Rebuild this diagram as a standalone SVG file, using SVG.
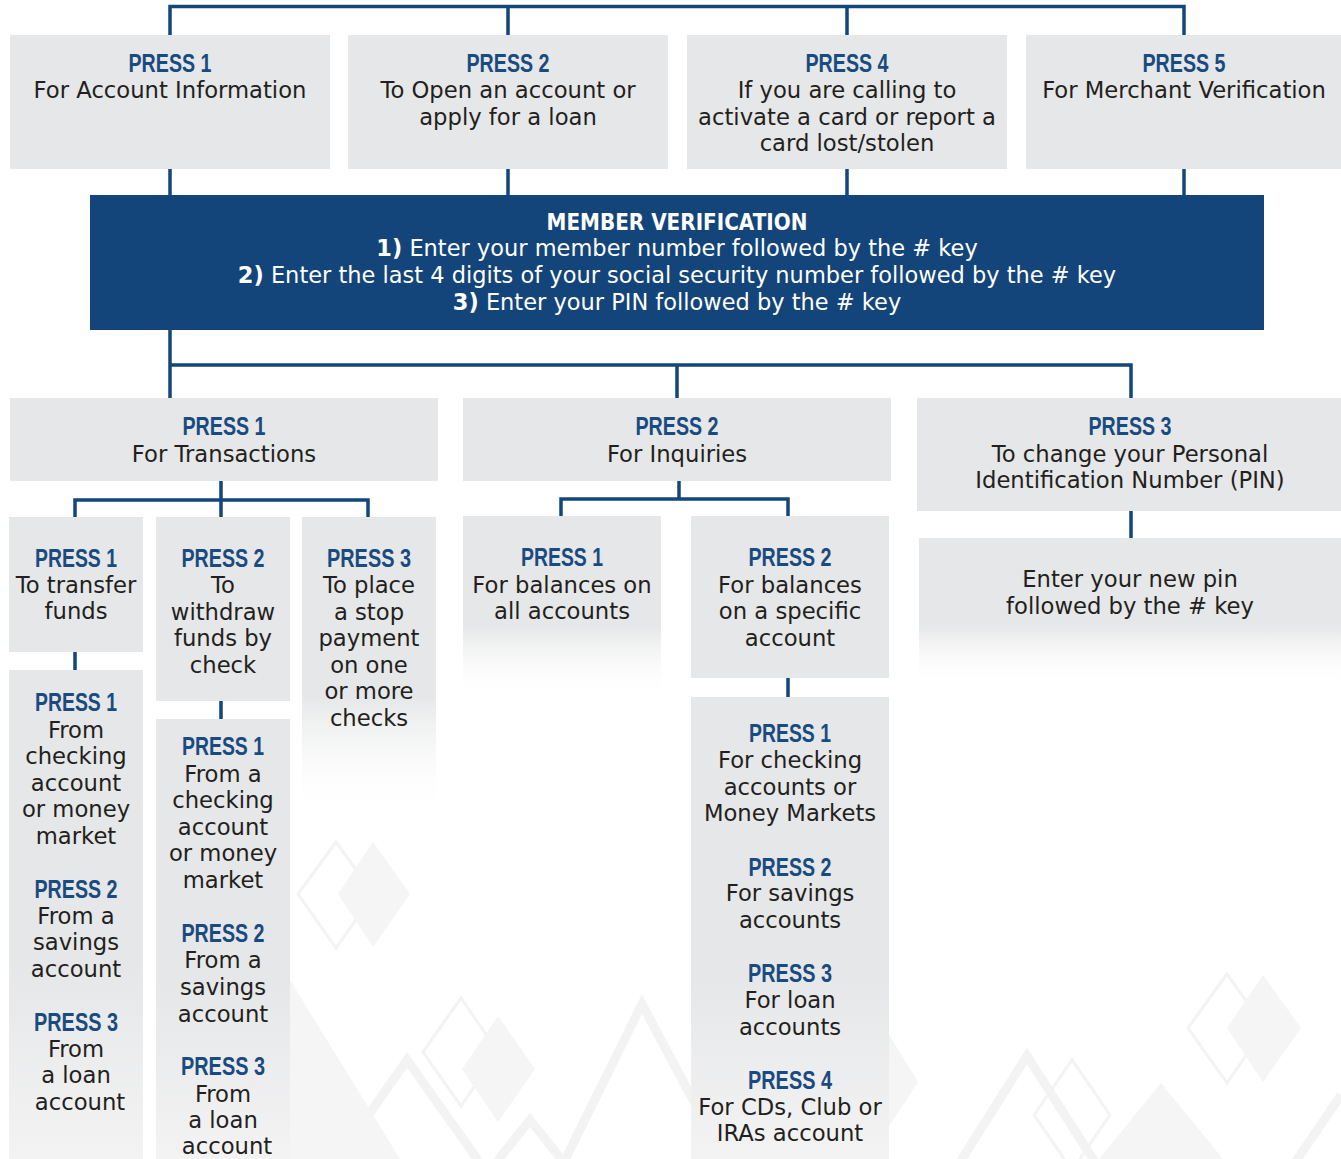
<svg xmlns="http://www.w3.org/2000/svg" width="1341" height="1159" viewBox="0 0 1341 1159">
<style>
.box{fill:#e6e7e8}
.fade{fill:url(#fadeG)}
.col{fill:url(#colG)}
.ln{stroke:#13467b;stroke-width:3.5;fill:none;stroke-linecap:square}
.t{font-family:"DejaVu Sans","Liberation Sans",sans-serif;font-size:22.7px;fill:#231f20;text-anchor:middle}
.p{font-family:"Liberation Sans",Arial,sans-serif;font-weight:bold;font-size:25px;fill:#1a4b80;text-anchor:middle}
.w{font-family:"DejaVu Sans","Liberation Sans",sans-serif;font-size:22.5px;fill:#ffffff;text-anchor:middle}
.wb{font-weight:bold}
.deco-o{fill:none;stroke:#f3f3f3;stroke-width:3}
.deco-t{fill:none;stroke:#f3f3f3;stroke-width:9}
.deco-f{fill:#f5f5f5}
</style>
<defs>
<linearGradient id="fadeG" x1="0" y1="0" x2="0" y2="1">
<stop offset="0.6" stop-color="#e6e7e8"/>
<stop offset="1" stop-color="#ffffff" stop-opacity="0"/>
</linearGradient>
<linearGradient id="colG" x1="0" y1="0" x2="0" y2="1">
<stop offset="0.6" stop-color="#e6e7e8"/>
<stop offset="1" stop-color="#f3f3f4"/>
</linearGradient>
</defs>
<rect width="1341" height="1159" fill="#ffffff"/>
<g id="background">
<polygon class="deco-o" points="336,842 298,894 336,948 374,894"/>
<polygon class="deco-f" points="373,842 338,894 373,947 410,894"/>
<polygon class="deco-o" points="461,998 423,1052 461,1106 498,1052"/>
<polygon class="deco-f" points="498,1016 462,1069 498,1122 535,1069"/>
<polyline class="deco-t" points="330,1170 407,1060 485,1170"/>
<polyline class="deco-t" points="560,1170 642,1004 730,1170"/>
<polyline class="deco-t" points="490,1170 530,1120 570,1170"/>
<polygon class="deco-f" points="290,980 290,1159 400,1159"/>
<polygon class="deco-o" points="1227,974 1188,1028 1227,1083 1265,1028"/>
<polygon class="deco-f" points="1263,975 1227,1028 1263,1082 1301,1028"/>
<polyline class="deco-t" points="955,1170 1027,1056 1100,1170"/>
<polygon class="deco-o" points="1072,1060 1034,1115 1072,1170 1110,1115"/>
<polygon class="deco-f" points="1161,1083 1090,1170 1232,1170"/>
<polygon class="deco-f" points="880,1020 918,1082 880,1140"/>
<polyline class="deco-t" points="1290,1170 1341,1095"/>
</g>
<g id="connectors">
<path class="ln" d="M170,35 V6.5 H1184 V35 M508,6.5 V35 M847,6.5 V35"/>
<path class="ln" d="M170,169 V195 M508,169 V195 M847,169 V195 M1184,169 V195"/>
<path class="ln" d="M170,330 V398 M170,365 H1131 V398 M677,365 V398"/>
<path class="ln" d="M221,481 V517 M75,517 V500 H368 V517"/>
<path class="ln" d="M679,481 V499 M561,516 V499 H788 V516"/>
<path class="ln" d="M75,652 V670 M221,701 V719 M788,678 V697 M1131,511 V538"/>
</g>
<g id="top1"><rect class="box" x="10" y="35" width="320" height="134"/>
<text class="p" x="170" y="72" textLength="83" lengthAdjust="spacingAndGlyphs">PRESS 1</text>
<text class="t" x="170" y="98">For Account Information</text></g>
<g id="top2"><rect class="box" x="348" y="35" width="320" height="134"/>
<text class="p" x="508" y="72" textLength="83" lengthAdjust="spacingAndGlyphs">PRESS 2</text>
<text class="t" x="508" y="98">To Open an account or</text>
<text class="t" x="508" y="125">apply for a loan</text></g>
<g id="top4"><rect class="box" x="687" y="35" width="320" height="134"/>
<text class="p" x="847" y="72" textLength="83" lengthAdjust="spacingAndGlyphs">PRESS 4</text>
<text class="t" x="847" y="98">If you are calling to</text>
<text class="t" x="847" y="125">activate a card or report a</text>
<text class="t" x="847" y="151">card lost/stolen</text></g>
<g id="top5"><rect class="box" x="1026" y="35" width="315" height="134"/>
<text class="p" x="1184" y="72" textLength="83" lengthAdjust="spacingAndGlyphs">PRESS 5</text>
<text class="t" x="1184" y="98">For Merchant Verification</text></g>
<g id="verification"><rect x="90" y="195" width="1174" height="135" fill="#13457a"/>
<text class="w wb" x="677" y="230" textLength="261" lengthAdjust="spacingAndGlyphs">MEMBER VERIFICATION</text>
<text class="w" x="677" y="256"><tspan class="wb">1)</tspan> Enter your member number followed by the # key</text>
<text class="w" x="677" y="283"><tspan class="wb">2)</tspan> Enter the last 4 digits of your social security number followed by the # key</text>
<text class="w" x="677" y="310"><tspan class="wb">3)</tspan> Enter your PIN followed by the # key</text></g>
<g id="transactions"><rect class="box" x="10" y="398" width="428" height="83"/>
<text class="p" x="224" y="435" textLength="83" lengthAdjust="spacingAndGlyphs">PRESS 1</text>
<text class="t" x="224" y="462">For Transactions</text></g>
<g id="inquiries"><rect class="box" x="463" y="398" width="428" height="83"/>
<text class="p" x="677" y="435" textLength="83" lengthAdjust="spacingAndGlyphs">PRESS 2</text>
<text class="t" x="677" y="462">For Inquiries</text></g>
<g id="changepin"><rect class="box" x="917" y="398" width="424" height="113"/>
<text class="p" x="1130" y="435" textLength="83" lengthAdjust="spacingAndGlyphs">PRESS 3</text>
<text class="t" x="1130" y="462">To change your Personal</text>
<text class="t" x="1130" y="488">Identification Number (PIN)</text></g>
<g id="transfer"><rect class="box" x="9" y="517" width="134" height="135"/>
<text class="p" x="76" y="567" textLength="82" lengthAdjust="spacingAndGlyphs">PRESS 1</text>
<text class="t" x="76" y="593">To transfer</text>
<text class="t" x="76" y="619">funds</text></g>
<g id="withdraw"><rect class="box" x="156" y="517" width="134" height="184"/>
<text class="p" x="223" y="567" textLength="83" lengthAdjust="spacingAndGlyphs">PRESS 2</text>
<text class="t" x="223" y="593">To</text>
<text class="t" x="223" y="620">withdraw</text>
<text class="t" x="223" y="646">funds by</text>
<text class="t" x="223" y="673">check</text></g>
<g id="stoppayment"><rect class="fade" x="302" y="517" width="134" height="300"/>
<text class="p" x="369" y="567" textLength="84" lengthAdjust="spacingAndGlyphs">PRESS 3</text>
<text class="t" x="369" y="593">To place</text>
<text class="t" x="369" y="620">a stop</text>
<text class="t" x="369" y="646">payment</text>
<text class="t" x="369" y="673">on one</text>
<text class="t" x="369" y="699">or more</text>
<text class="t" x="369" y="726">checks</text></g>
<g id="transferfrom"><rect class="col" x="9" y="670" width="134" height="489"/>
<text class="p" x="76" y="711" textLength="82" lengthAdjust="spacingAndGlyphs">PRESS 1</text>
<text class="t" x="76" y="738">From</text>
<text class="t" x="76" y="764">checking</text>
<text class="t" x="76" y="791">account</text>
<text class="t" x="76" y="817">or money</text>
<text class="t" x="76" y="844">market</text>
<text class="p" x="76" y="898" textLength="83" lengthAdjust="spacingAndGlyphs">PRESS 2</text>
<text class="t" x="76" y="924">From a</text>
<text class="t" x="76" y="950">savings</text>
<text class="t" x="76" y="977">account</text>
<text class="p" x="76" y="1031" textLength="84" lengthAdjust="spacingAndGlyphs">PRESS 3</text>
<text class="t" x="76" y="1057">From</text>
<text class="t" x="76" y="1083">a loan</text>
<text class="t" x="80" y="1110">account</text></g>
<g id="withdrawfrom"><rect class="col" x="156" y="719" width="134" height="440"/>
<text class="p" x="223" y="755" textLength="82" lengthAdjust="spacingAndGlyphs">PRESS 1</text>
<text class="t" x="223" y="782">From a</text>
<text class="t" x="223" y="808">checking</text>
<text class="t" x="223" y="835">account</text>
<text class="t" x="223" y="861">or money</text>
<text class="t" x="223" y="888">market</text>
<text class="p" x="223" y="942" textLength="83" lengthAdjust="spacingAndGlyphs">PRESS 2</text>
<text class="t" x="223" y="968">From a</text>
<text class="t" x="223" y="995">savings</text>
<text class="t" x="223" y="1022">account</text>
<text class="p" x="223" y="1075" textLength="84" lengthAdjust="spacingAndGlyphs">PRESS 3</text>
<text class="t" x="223" y="1102">From</text>
<text class="t" x="223" y="1128">a loan</text>
<text class="t" x="227" y="1154">account</text></g>
<g id="allbalances"><rect class="fade" x="463" y="516" width="198" height="184"/>
<text class="p" x="562" y="566" textLength="82" lengthAdjust="spacingAndGlyphs">PRESS 1</text>
<text class="t" x="562" y="593">For balances on</text>
<text class="t" x="562" y="619">all accounts</text></g>
<g id="specificbalance"><rect class="box" x="691" y="516" width="198" height="162"/>
<text class="p" x="790" y="566" textLength="83" lengthAdjust="spacingAndGlyphs">PRESS 2</text>
<text class="t" x="790" y="593">For balances</text>
<text class="t" x="790" y="619">on a specific</text>
<text class="t" x="790" y="646">account</text></g>
<g id="accounttypes"><rect class="col" x="691" y="697" width="198" height="462"/>
<text class="p" x="790" y="742" textLength="82" lengthAdjust="spacingAndGlyphs">PRESS 1</text>
<text class="t" x="790" y="768">For checking</text>
<text class="t" x="790" y="795">accounts or</text>
<text class="t" x="790" y="821">Money Markets</text>
<text class="p" x="790" y="876" textLength="83" lengthAdjust="spacingAndGlyphs">PRESS 2</text>
<text class="t" x="790" y="901">For savings</text>
<text class="t" x="790" y="928">accounts</text>
<text class="p" x="790" y="982" textLength="84" lengthAdjust="spacingAndGlyphs">PRESS 3</text>
<text class="t" x="790" y="1008">For loan</text>
<text class="t" x="790" y="1035">accounts</text>
<text class="p" x="790" y="1089" textLength="84" lengthAdjust="spacingAndGlyphs">PRESS 4</text>
<text class="t" x="790" y="1115">For CDs, Club or</text>
<text class="t" x="790" y="1141">IRAs account</text></g>
<g id="newpin"><rect class="fade" x="919" y="538" width="422" height="147"/>
<text class="t" x="1130" y="587">Enter your new pin</text>
<text class="t" x="1130" y="614">followed by the # key</text></g>
</svg>
